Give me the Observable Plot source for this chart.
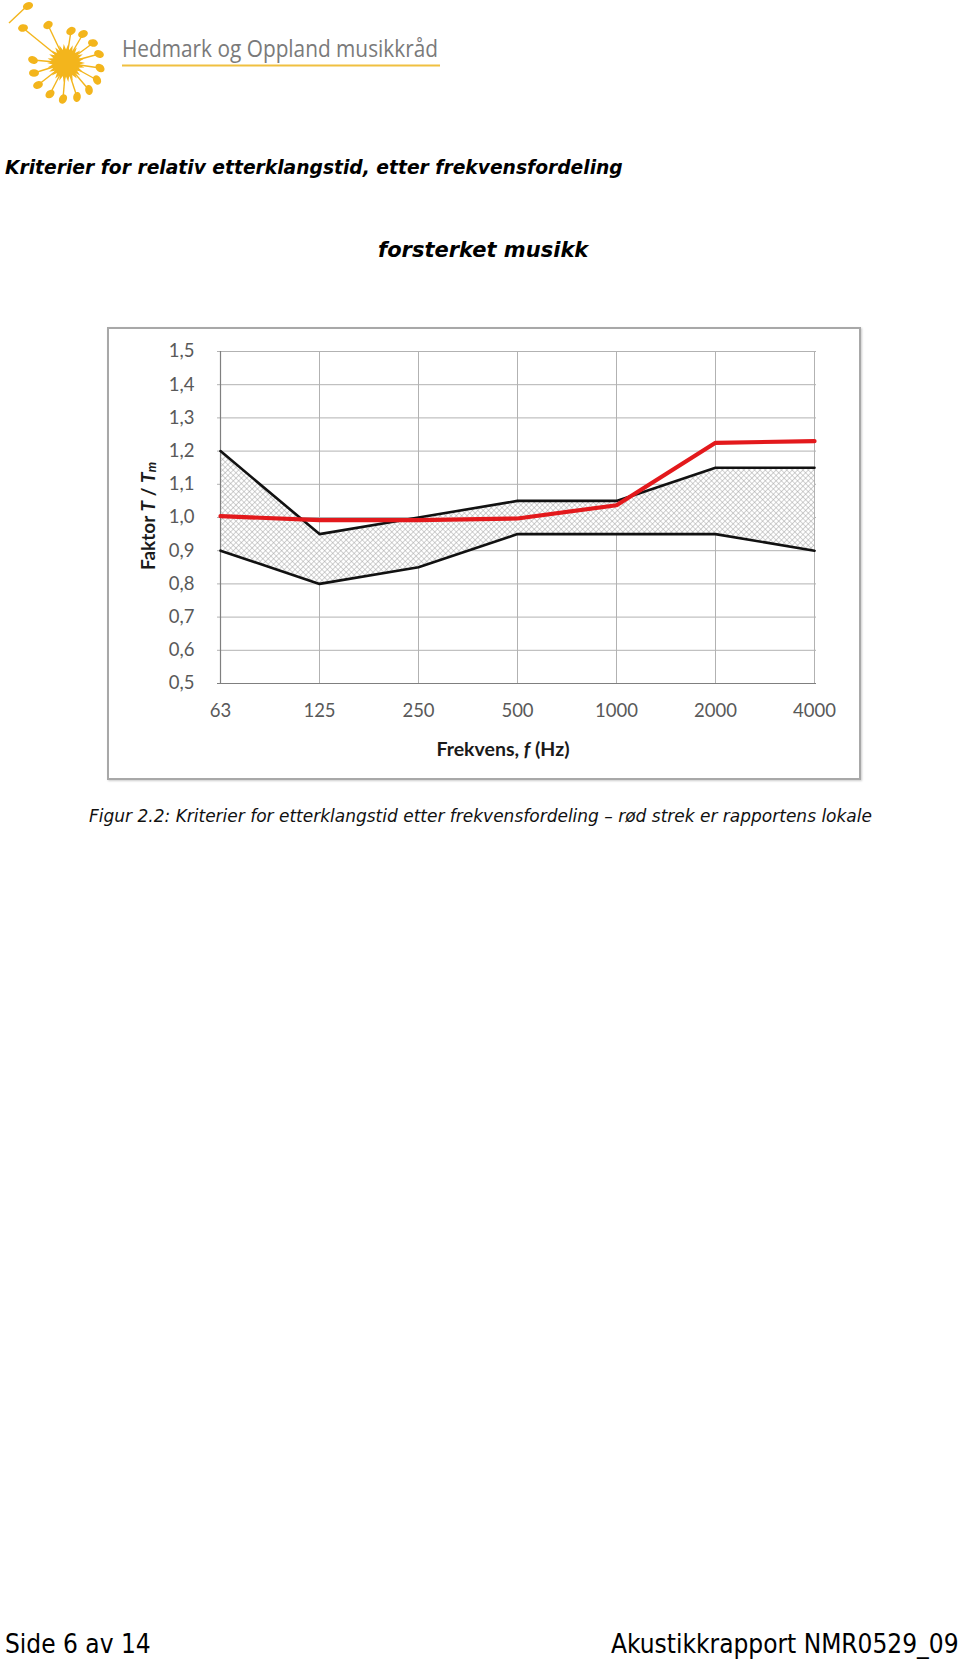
<!DOCTYPE html>
<html><head><meta charset="utf-8">
<script src="https://cdn.jsdelivr.net/npm/d3@7"></script>
<script src="https://cdn.jsdelivr.net/npm/@observablehq/plot@0.6"></script>
<style>
html,body{margin:0;padding:0;background:#fff;}
body{width:960px;height:1660px;position:relative;overflow:hidden;font-family:"DejaVu Sans",sans-serif;color:#000;}
.abs{position:absolute;white-space:nowrap;line-height:1;}
#title{left:5px;top:159px;font-weight:bold;font-style:italic;font-size:18.7px;}
#subtitle{left:378px;top:240px;font-weight:bold;font-style:italic;font-size:21px;}
#caption{left:89px;top:808px;font-style:italic;font-size:17px;font-family:"DejaVu Sans",sans-serif;color:#111;}
#footL{left:5px;top:1631px;font-size:26px;font-family:"DejaVu Sans Condensed","DejaVu Sans";}
#footR{left:611px;top:1631px;font-size:26px;font-family:"DejaVu Sans Condensed","DejaVu Sans";}
#chartwrap{position:absolute;left:107px;top:327px;width:753px;height:453px;}
#frame{position:absolute;left:107px;top:327px;width:754px;height:453px;box-sizing:border-box;border:2px solid #a8a8a8;box-shadow:1px 1px 2px #ccc;pointer-events:none;}
#logo{position:absolute;left:0;top:0;}
</style>
</head><body>
<svg id="logo" width="540" height="110" viewBox="0 0 540 110">
  <g stroke="#f3b51c" stroke-width="1.4" fill="none">
    <line x1="9" y1="23" x2="27" y2="6"/>
    <line x1="66" y1="63" x2="23" y2="28"/>
    <line x1="66" y1="63" x2="48" y2="25"/>
    <line x1="66" y1="63" x2="71" y2="31"/>
    <line x1="66" y1="63" x2="83" y2="34"/>
    <line x1="66" y1="63" x2="93" y2="43"/>
    <line x1="66" y1="63" x2="99" y2="54"/>
    <line x1="66" y1="63" x2="100" y2="68"/>
    <line x1="66" y1="63" x2="97" y2="80"/>
    <line x1="66" y1="63" x2="89" y2="90"/>
    <line x1="66" y1="63" x2="77" y2="97"/>
    <line x1="66" y1="63" x2="63" y2="99"/>
    <line x1="66" y1="63" x2="50" y2="94"/>
    <line x1="66" y1="63" x2="38" y2="85"/>
    <line x1="66" y1="63" x2="34" y2="73"/>
    <line x1="66" y1="63" x2="33" y2="60"/>
  </g>
  <g fill="#f3b51c">
    <ellipse cx="28" cy="6" rx="5.2" ry="3.8" transform="rotate(-20 28 6)"/>
    <ellipse cx="23" cy="28" rx="5" ry="3.8" transform="rotate(-10 23 28)"/>
    <ellipse cx="48" cy="25" rx="5" ry="3.8" transform="rotate(-30 48 25)"/>
    <ellipse cx="71" cy="31" rx="5" ry="3.8" transform="rotate(-30 71 31)"/>
    <ellipse cx="83" cy="34" rx="5" ry="3.8" transform="rotate(-20 83 34)"/>
    <ellipse cx="93" cy="43" rx="5" ry="3.8" transform="rotate(10 93 43)"/>
    <ellipse cx="99" cy="54" rx="5" ry="3.8" transform="rotate(20 99 54)"/>
    <ellipse cx="100" cy="68" rx="5" ry="3.8" transform="rotate(40 100 68)"/>
    <ellipse cx="97" cy="80" rx="5" ry="3.8" transform="rotate(60 97 80)"/>
    <ellipse cx="89" cy="90" rx="5" ry="3.8" transform="rotate(80 89 90)"/>
    <ellipse cx="77" cy="97" rx="5" ry="3.8" transform="rotate(100 77 97)"/>
    <ellipse cx="63" cy="99" rx="5" ry="3.8" transform="rotate(120 63 99)"/>
    <ellipse cx="50" cy="94" rx="5" ry="3.8" transform="rotate(140 50 94)"/>
    <ellipse cx="38" cy="85" rx="5" ry="3.8" transform="rotate(160 38 85)"/>
    <ellipse cx="34" cy="73" rx="5" ry="3.8" transform="rotate(180 34 73)"/>
    <ellipse cx="33" cy="60" rx="5" ry="3.8" transform="rotate(200 33 60)"/>
    <polygon id="sun" points=""/>
  </g>
  <text x="122" y="57" font-family="Open Sans" font-size="24" fill="#7a7a7a" textLength="316" lengthAdjust="spacingAndGlyphs">Hedmark og Oppland musikkråd</text>
  <line x1="122" y1="65.5" x2="440" y2="65.5" stroke="#f0c040" stroke-width="1.8"/>
</svg>
<div id="title" class="abs">Kriterier for relativ etterklangstid, etter frekvensfordeling</div>
<div id="subtitle" class="abs">forsterket musikk</div>
<div id="chartwrap"></div>
<div id="frame"></div>
<div id="caption" class="abs">Figur 2.2: Kriterier for etterklangstid etter frekvensfordeling – rød strek er rapportens lokale</div>
<div id="footL" class="abs">Side 6 av 14</div>
<div id="footR" class="abs">Akustikkrapport NMR0529_09</div>
<script>
// --- data ---
const frequencies = ["63", "125", "250", "500", "1000", "2000", "4000"];
const upperLimit = [1.20, 0.95, 1.00, 1.05, 1.05, 1.15, 1.15];
const lowerLimit = [0.90, 0.80, 0.85, 0.95, 0.95, 0.95, 0.90];
const measured   = [1.004, 0.992, 0.992, 0.997, 1.037, 1.225, 1.230];
const yTicks = [0.5, 0.6, 0.7, 0.8, 0.9, 1.0, 1.1, 1.2, 1.3, 1.4, 1.5];

// sun starburst (logo decoration)
(function(){
  const pts = [];
  const n = 26, cx = 66, cy = 63;
  for (let i = 0; i < n * 2; i++) {
    const r = i % 2 === 0 ? 19 : 13.5;
    const a = Math.PI * i / n;
    pts.push((cx + r * Math.cos(a)).toFixed(1) + "," + (cy + r * Math.sin(a)).toFixed(1));
  }
  document.getElementById("sun").setAttribute("points", pts.join(" "));
})();

const rows = frequencies.map((f, i) => ({f, upper: upperLimit[i], lower: lowerLimit[i], measured: measured[i]}));
const fmt = d => d.toFixed(1).replace(".", ",");

const chart = Plot.plot({
  width: 753,
  height: 453,
  marginLeft: 110,
  marginRight: 44,
  marginTop: 24,
  marginBottom: 97,
  style: {fontFamily: "Lato", fontSize: "18.5px", color: "#595959", background: "#fff", overflow: "visible"},
  x: {type: "point", domain: frequencies, padding: 0, label: null},
  y: {domain: [0.5, 1.5], label: null},
  marks: [
    Plot.ruleY(yTicks, {stroke: "#b2b2b2", strokeWidth: 1}),
    Plot.ruleX(frequencies, {stroke: "#b2b2b2", strokeWidth: 1}),
    Plot.areaY(rows, {x: "f", y1: "lower", y2: "upper", fill: "url(#hatch)"}),
    Plot.ruleX([frequencies[0]], {stroke: "#7f7f7f", strokeWidth: 1.2}),
    Plot.ruleY([0.5], {stroke: "#7f7f7f", strokeWidth: 1.2}),
    Plot.lineY(rows, {x: "f", y: "upper", stroke: "#111", strokeWidth: 2.6}),
    Plot.lineY(rows, {x: "f", y: "lower", stroke: "#111", strokeWidth: 2.6}),
    Plot.lineY(rows, {x: "f", y: "measured", stroke: "#e3191c", strokeWidth: 4.2}),
    Plot.axisX({tickSize: 0, tickPadding: 20, label: null}),
    Plot.axisY({ticks: yTicks, tickSize: 0, tickPadding: 23, tickFormat: fmt, label: null})
  ]
});

// hatch pattern
const svg = d3.select(chart);
const defs = svg.insert("defs", ":first-child");
const pat = defs.append("pattern").attr("id", "hatch").attr("patternUnits", "userSpaceOnUse")
  .attr("width", 3.8).attr("height", 3.8).attr("patternTransform", "rotate(45)");
pat.append("rect").attr("width", 3.8).attr("height", 3.8).attr("fill", "#fff");
pat.append("path").attr("d", "M0,0H3.8M0,0V3.8").attr("stroke", "#a3a3a3").attr("stroke-width", 1);

// axis titles
const yt = svg.append("text").attr("transform", "translate(40,189) rotate(-90)")
  .attr("text-anchor", "middle").attr("dominant-baseline", "central")
  .attr("font-family", "Lato").attr("font-weight", "bold").attr("font-size", 19).attr("fill", "#1a1a1a");
yt.append("tspan").text("Faktor ");
yt.append("tspan").attr("font-style", "italic").text("T");
yt.append("tspan").text(" / ");
yt.append("tspan").attr("font-style", "italic").text("T");
yt.append("tspan").attr("font-style", "italic").attr("font-size", 13).attr("dy", 4).text("m");

const xt = svg.append("text").attr("x", 396).attr("y", 421)
  .attr("text-anchor", "middle").attr("dominant-baseline", "central")
  .attr("font-family", "Lato").attr("font-weight", "bold").attr("font-size", 19.5).attr("fill", "#1a1a1a");
xt.append("tspan").text("Frekvens, ");
xt.append("tspan").attr("font-style", "italic").text("f");
xt.append("tspan").text(" (Hz)");

document.getElementById("chartwrap").appendChild(chart);
</script>
</body></html>
